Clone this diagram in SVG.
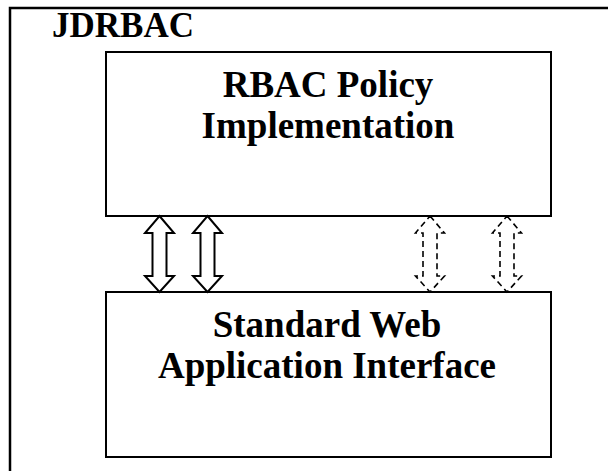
<svg xmlns="http://www.w3.org/2000/svg" xmlns:xlink="http://www.w3.org/1999/xlink" width="608" height="471" viewBox="0 0 608 471">
  <style>
    .frame { fill: none; stroke: #000; stroke-width: 2.5; }
    .box { fill: #fff; stroke: #000; stroke-width: 2; }
    .label { font-family: "Liberation Serif", "Times New Roman", serif; font-weight: bold; fill: #000; text-anchor: middle; }
    .solid { fill: #fff; stroke: #000; stroke-width: 2; stroke-linejoin: miter; }
    .dashed { fill: #fff; stroke: #000; stroke-width: 1.6; stroke-dasharray: 6 4; }
  </style>
  <defs>
    <!-- double-headed block arrow, centred on x = 0 -->
    <path id="dbl-arrow" d="M0,216 L14.5,233 L7,233 L7,276 L14.5,276 L0,292 L-14.5,276 L-7,276 L-7,233 L-14.5,233 Z"/>
  </defs>

  <rect width="608" height="471" fill="#fff"/>

  <!-- enclosing frame (top and left edges) -->
  <g id="jdrbac">
    <path class="frame" d="M10,471 L10,8 L608,8"/>
    <text class="label" x="123" y="37" font-size="35">JDRBAC</text>
  </g>

  <g id="rbac-policy">
    <rect class="box" x="106" y="52" width="445" height="164"/>
    <text class="label" x="328" y="97" font-size="37">RBAC Policy</text>
    <text class="label" x="328" y="138" font-size="37">Implementation</text>
  </g>

  <g id="web-interface">
    <rect class="box" x="106" y="292" width="445" height="165"/>
    <text class="label" x="327" y="337" font-size="37">Standard Web</text>
    <text class="label" x="327" y="378" font-size="37">Application Interface</text>
  </g>

  <g id="connectors">
    <use xlink:href="#dbl-arrow" class="solid" x="159.5"/>
    <use xlink:href="#dbl-arrow" class="solid" x="207.5"/>
    <use xlink:href="#dbl-arrow" class="dashed" x="430"/>
    <use xlink:href="#dbl-arrow" class="dashed" x="507"/>
  </g>
</svg>
